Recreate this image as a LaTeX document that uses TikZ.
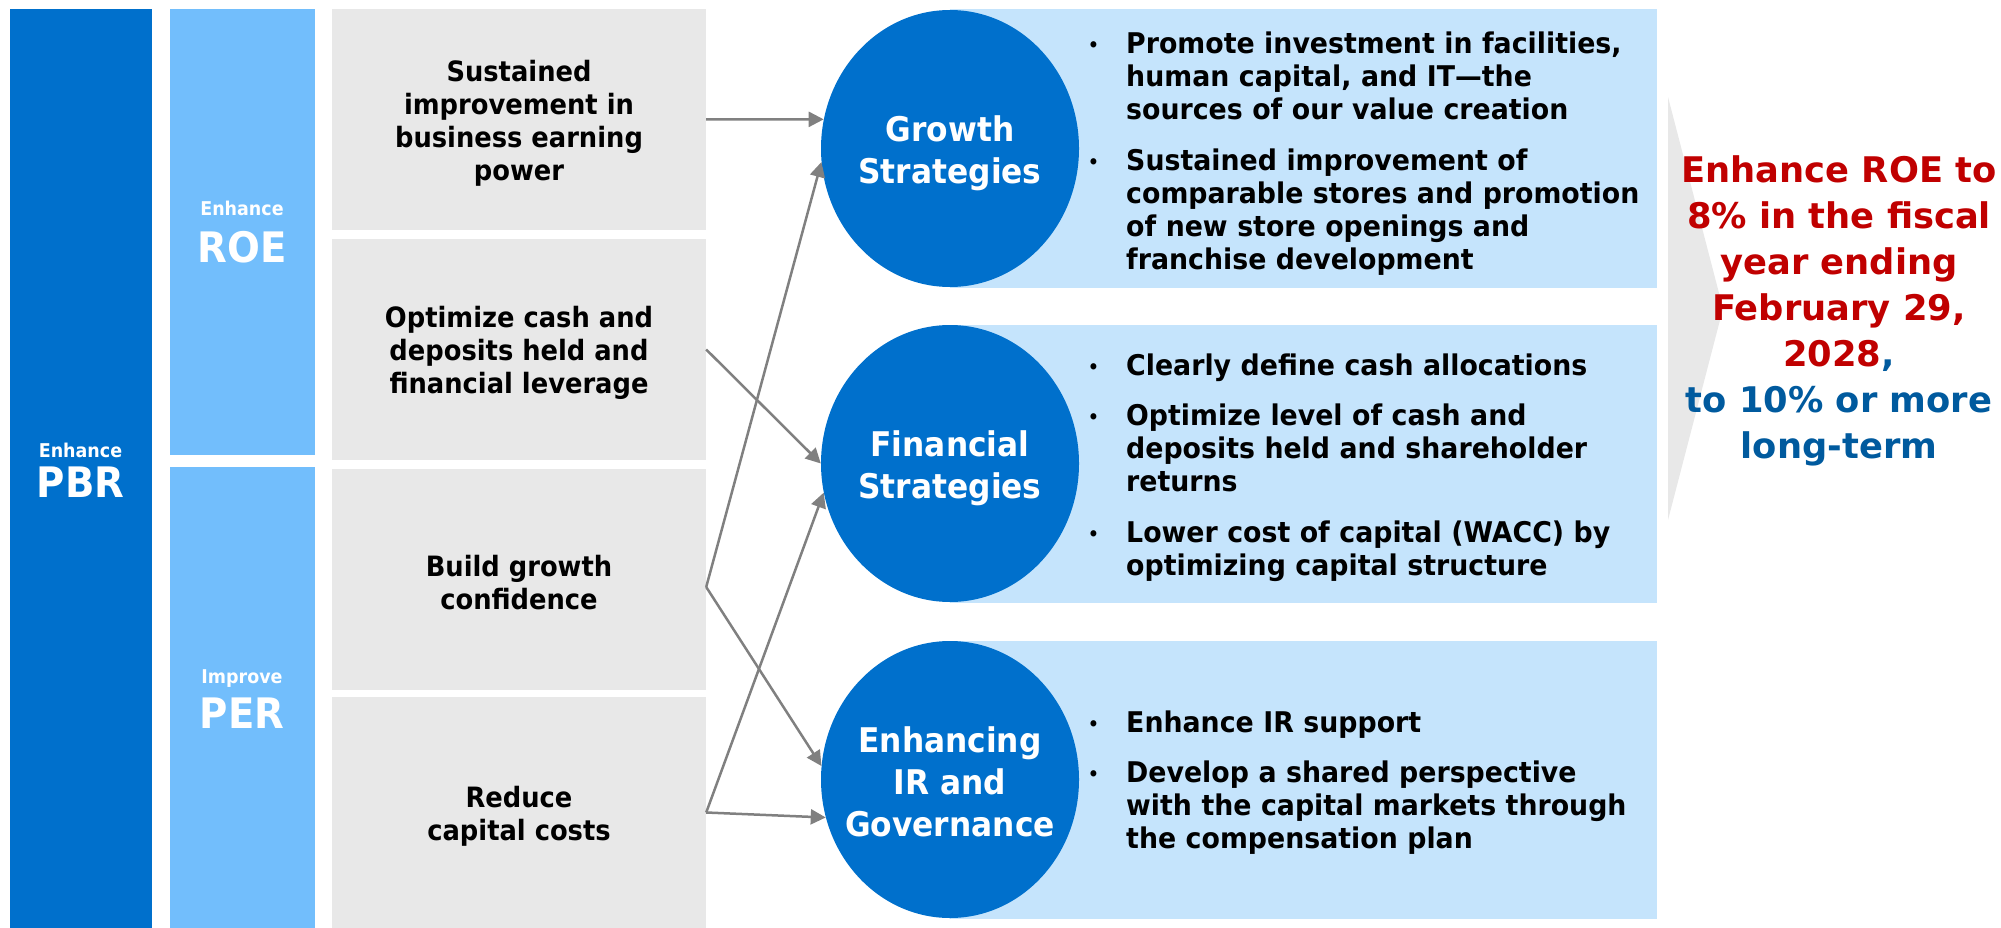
\documentclass[tikz,border=0pt]{standalone}
\usepackage{fontspec}
\setmainfont{DejaVu Sans}
\newfontfamily\bodyf{DejaVu Sans}[FakeStretch=0.92]
\newfontfamily\bulf{DejaVu Sans}[FakeStretch=0.94]
\newfontfamily\goalf{DejaVu Sans}
\usetikzlibrary{shapes.geometric,arrows.meta}
\definecolor{dblue}{HTML}{0070CC}
\definecolor{lblue}{HTML}{72BEFC}
\definecolor{bandc}{HTML}{C5E4FC}
\definecolor{gboxc}{HTML}{E8E8E8}
\definecolor{arrgray}{HTML}{808080}
\definecolor{tred}{HTML}{C00000}
\definecolor{tblue}{HTML}{005A9E}
\newcommand{\bulitem}[1]{\par\noindent\makebox[38pt][l]{\raisebox{2pt}{\fontsize{18}{33}\selectfont\textbullet}}\begin{tabular}[t]{@{}l@{}}#1\end{tabular}\par}
\tikzset{
  colbox/.style={rectangle, inner sep=0pt, draw=none},
  collab/.style={text=white, inner sep=0pt, anchor=base, font=\bodyf\bfseries\fontsize{19}{22}\selectfont},
  colbig/.style={text=white, inner sep=0pt, anchor=base, font=\bodyf\bfseries\fontsize{42}{48}\selectfont},
  gbox/.style={rectangle, fill=gboxc, inner sep=0pt, minimum width=374pt},
  gtext/.style={inner sep=0pt, align=center, font=\bodyf\bfseries\fontsize{28}{33}\selectfont},
  bandbox/.style={rectangle, fill=bandc, inner sep=0pt, minimum width=707pt, minimum height=278pt},
  ell/.style={ellipse, fill=dblue, draw=none, inner sep=0pt, minimum width=258pt, minimum height=277pt},
  elltext/.style={text=white, inner sep=0pt, align=center, font=\bodyf\bfseries\fontsize{34}{42}\selectfont},
  bullets/.style={anchor=west, inner sep=0pt, text width=560pt, font=\bulf\bfseries\fontsize{28.5}{33}\selectfont},
  arr/.style={draw=arrgray, line width=2.5pt, -{Triangle[length=15pt,width=15pt]}},
  goal/.style={align=center, inner sep=0pt, text=tred, font=\goalf\bfseries\fontsize{35.3}{46}\selectfont}
}
\begin{document}
\begin{tikzpicture}[x=1pt,y=-1pt]
\useasboundingbox (0,0) rectangle (2001,928);
% left columns
\node[colbox, fill=dblue, minimum width=142pt, minimum height=919pt] (pbrcol) at (80.5,468.5) {};
\node[collab] (pbr1) at (pbrcol.center |- 0,457) {Enhance};
\node[colbig] (pbr2) at (pbrcol.center |- 0,497) {PBR};
\node[colbox, fill=lblue, minimum width=145pt, minimum height=446pt] (roecol) at (242,232) {};
\node[collab] (roe1) at (roecol.center |- 0,215) {Enhance};
\node[colbig] (roe2) at (roecol.center |- 0,262) {ROE};
\node[colbox, fill=lblue, minimum width=145pt, minimum height=461pt] (percol) at (242,697.5) {};
\node[collab] (per1) at (percol.center |- 0,683) {Improve};
\node[colbig] (per2) at (percol.center |- 0,728) {PER};
% gray boxes
\node[gbox, minimum height=221pt] (box1) at (519,119.5) {};
\node[gbox, minimum height=221pt] (box2) at (519,349.5) {};
\node[gbox, minimum height=221pt] (box3) at (519,579.5) {};
\node[gbox, minimum height=231pt] (box4) at (519,812.5) {};
\node[gtext] (box1t) at ([yshift=-4pt]box1.center) {Sustained\\improvement in\\business earning\\power};
\node[gtext] (box2t) at ([yshift=-3pt]box2.center) {Optimize cash and\\deposits held and\\financial leverage};
\node[gtext] (box3t) at ([yshift=-3pt]box3.center) {Build growth\\confidence};
\node[gtext] (box4t) at ([yshift=-4pt]box4.center) {Reduce\\capital costs};
% bands
\node[bandbox] (gband) at (1303.5,148.5) {};
\node[bandbox] (fband) at (1303.5,463.5) {};
\node[bandbox] (eband) at (1303.5,779.5) {};
% ellipses
\node[ell] (gs) at (950,148.5) {};
\node[ell] (fs) at (950,463.5) {};
\node[ell] (es) at (950,779.5) {};
\node[elltext] (gst) at ([yshift=-5pt]gs.center) {Growth\\Strategies};
\node[elltext] (fst) at ([yshift=-5pt]fs.center) {Financial\\Strategies};
\node[elltext] (est) at ([yshift=-2.5pt]es.center) {Enhancing\\IR and\\Governance};
% bullet texts
\node[bullets] (gbul) at (1088,149.5) {%
\bulitem{Promote investment in facilities,\\human capital, and IT—the\\sources of our value creation}\vspace{17pt}%
\bulitem{Sustained improvement of\\comparable stores and promotion\\of new store openings and\\franchise development}};
\node[bullets] (fbul) at (1088,464) {%
\bulitem{Clearly define cash allocations}\vspace{17pt}%
\bulitem{Optimize level of cash and\\deposits held and shareholder\\returns}\vspace{17pt}%
\bulitem{Lower cost of capital (WACC) by\\optimizing capital structure}};
\node[bullets] (ebul) at (1088,779) {%
\bulitem{Enhance IR support}\vspace{17pt}%
\bulitem{Develop a shared perspective\\with the capital markets through\\the compensation plan}};
% chevron
\fill[gboxc] (1668,97) -- (1723,308.5) -- (1668,520) -- cycle;
\node[goal] (goaltext) at (1839,311) {Enhance ROE to\\8\% in the fiscal\\year ending\\February 29,\\2028\textcolor{tblue}{,}\\\textcolor{tblue}{to 10\% or more}\\\textcolor{tblue}{long-term}};
% connectors
\coordinate (j3) at ([yshift=-7.5pt]box3.east);
\coordinate (j4) at (box4.east);
\draw[arr] (box1.east) -- (gs.167);
\draw[arr] (box2.east) -- (fs.180);
\draw[arr] (j3) -- (gs.186);
\draw[arr] (j3) -- (es.174);
\draw[arr] (j4) -- (fs.193);
\draw[arr] (j4) -- (es.197);
\end{tikzpicture}
\end{document}
